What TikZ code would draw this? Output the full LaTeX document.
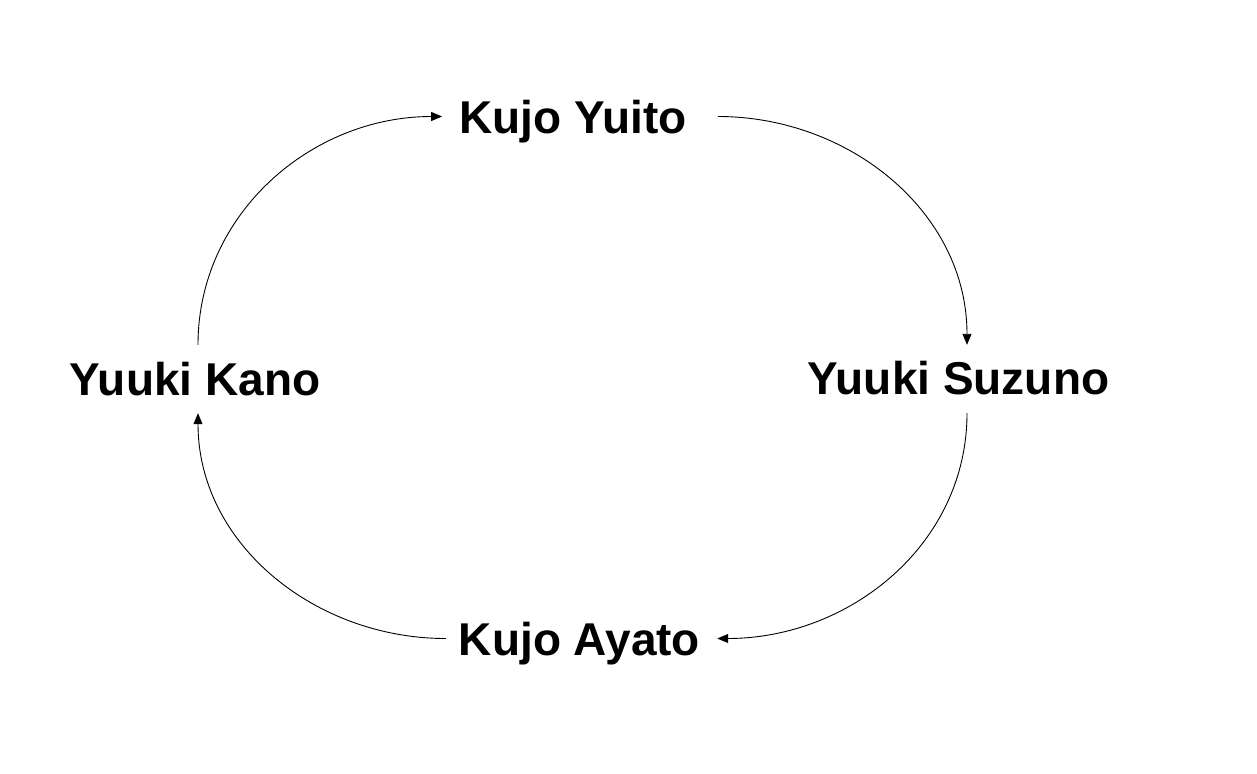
\documentclass[tikz,border=0pt]{standalone}
\usepackage{fontspec}
\setmainfont{Liberation Sans}
\usetikzlibrary{arrows.meta}
\begin{document}
\begin{tikzpicture}[x=1pt,y=1pt,
  person/.style={font=\fontsize{46}{52}\selectfont\bfseries, inner sep=0pt, text height=33pt, text depth=0pt, anchor=base},
  arr/.style={line width=0.9pt, -{Triangle[length=11pt,width=9pt]}}]
\useasboundingbox (0,0) rectangle (1257,-773);
\node[person] (yuito) at (573,-133) {Kujo Yuito};
\node[person] (kano) at (195,-395) {Yuuki Kano};
\node[person] (suzuno) at (958.5,-394) {Yuuki Suzuno};
\node[person] (ayato) at (579.5,-655) {Kujo Ayato};
\draw[arr] ([xshift=3pt,yshift=17pt]kano.north) to[out=90,in=180] ([xshift=-17pt]yuito.west);
\draw[arr] ([xshift=31pt]yuito.east) to[out=0,in=90] ([xshift=8.5pt,yshift=16pt]suzuno.north);
\draw[arr] ([xshift=8.5pt,yshift=-19pt]suzuno.south) to[out=-90,in=0] ([xshift=17pt]ayato.east);
\draw[arr] ([xshift=-13pt]ayato.west) to[out=180,in=-90] ([xshift=3pt,yshift=-18pt]kano.south);
\end{tikzpicture}
\end{document}
